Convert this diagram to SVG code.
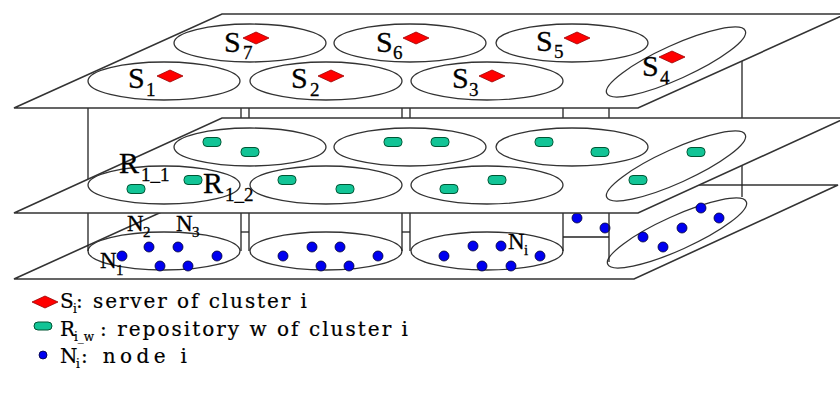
<svg xmlns="http://www.w3.org/2000/svg" width="840" height="406" viewBox="0 0 840 406" font-family="'Liberation Serif', 'Times New Roman', serif">
<style>
.pl{fill:#fff;stroke:#333;stroke-width:1.6}
.el{fill:none;stroke:#333;stroke-width:1.3}
.ln{stroke:#222;stroke-width:1.3;fill:none}
.srv{fill:#f00;stroke:#900;stroke-width:0.8}
.rep{fill:#12c496;stroke:#053;stroke-width:1}
.nd{fill:#0000f0;stroke:#003;stroke-width:0.8}
.t{font-family:'Liberation Serif','Times New Roman',serif;fill:#000;stroke:#000;stroke-width:0.3}
.s{font-size:30px}
.ss{font-size:19px}
.n{font-size:23px}
.ns{font-size:15px}
.lg{font-family:'DejaVu Serif',serif;font-size:20px;fill:#000;stroke:#000;stroke-width:0.2}
.lgs{font-size:12px}
</style>
<defs>
<path id="dia" class="srv" d="M-13,0 L0,-6 L13,0 L0,6 Z"/>
<rect id="rep" class="rep" x="-9" y="-4.5" width="18" height="9" rx="4"/>
<circle id="nd" class="nd" r="5"/>
</defs>

<g id="bottom-plane"><polygon class="pl" points="221,185 838,185 634,279 14,279"/></g>

<g id="cluster-N1">
<ellipse class="el" cx="164" cy="251" rx="76" ry="19"/>
<use href="#nd" x="122" y="256"/><use href="#nd" x="149" y="247"/><use href="#nd" x="178" y="247"/>
<use href="#nd" x="217" y="256"/><use href="#nd" x="160" y="266"/><use href="#nd" x="188" y="266"/>
<text class="t n" x="127" y="231">N<tspan class="ns" x="143" y="237">2</tspan></text>
<text class="t n" x="176" y="231">N<tspan class="ns" x="192" y="237">3</tspan></text>
<text class="t n" x="100" y="268">N<tspan class="ns" x="116" y="275">1</tspan></text>
</g>
<g id="cluster-N2">
<ellipse class="el" cx="326" cy="251" rx="76" ry="19"/>
<use href="#nd" x="283" y="256"/><use href="#nd" x="312" y="247"/><use href="#nd" x="340" y="247"/>
<use href="#nd" x="378" y="256"/><use href="#nd" x="321" y="266"/><use href="#nd" x="349" y="266"/>
</g>
<g id="cluster-N3">
<ellipse class="el" cx="487" cy="251" rx="76" ry="19"/>
<use href="#nd" x="444" y="256"/><use href="#nd" x="473" y="246"/><use href="#nd" x="501" y="246"/>
<use href="#nd" x="540" y="256"/><use href="#nd" x="482" y="266"/><use href="#nd" x="511" y="266"/>
<text class="t n" x="508" y="249">N<tspan class="ns" x="524" y="255">i</tspan></text>
</g>
<g id="cluster-N-back">
<use href="#nd" x="577" y="218"/><use href="#nd" x="605" y="228"/>
</g>
<g id="cluster-N4">
<ellipse class="el" cx="677" cy="233" rx="76" ry="17" transform="rotate(-24.3 677 233)"/>
<use href="#nd" x="701" y="208"/><use href="#nd" x="719" y="218"/><use href="#nd" x="682" y="228"/>
<use href="#nd" x="643" y="237"/><use href="#nd" x="663" y="247"/>
</g>

<g id="connectors" class="ln">
<line x1="88" y1="104" x2="88" y2="251"/>
<line x1="241" y1="104" x2="241" y2="251"/>
<line x1="249" y1="104" x2="249" y2="251"/>
<line x1="402" y1="104" x2="402" y2="251"/>
<line x1="410" y1="104" x2="410" y2="251"/>
<line x1="563" y1="104" x2="563" y2="251"/>
<line x1="609" y1="104" x2="609" y2="262"/>
<line x1="742" y1="58" x2="742" y2="197"/>
<line x1="241" y1="232" x2="249" y2="232"/>
<line x1="402" y1="232" x2="410" y2="232"/>
<line x1="563" y1="237" x2="609" y2="237"/>
</g>

<g id="middle-plane"><polygon class="pl" points="222,118 846,118 638,213 14,213"/></g>
<g id="cluster-R7">
<ellipse class="el" cx="250" cy="147" rx="76" ry="19"/>
<use href="#rep" x="212" y="142"/><use href="#rep" x="250" y="152"/>
</g>
<g id="cluster-R6">
<ellipse class="el" cx="410" cy="147" rx="76" ry="19"/>
<use href="#rep" x="393" y="142"/><use href="#rep" x="440" y="142"/>
</g>
<g id="cluster-R5">
<ellipse class="el" cx="572" cy="147" rx="76" ry="19"/>
<use href="#rep" x="544" y="142"/><use href="#rep" x="600" y="152"/>
</g>
<g id="cluster-R1">
<ellipse class="el" cx="164" cy="185" rx="76" ry="19"/>
<use href="#rep" x="136" y="189"/><use href="#rep" x="193" y="180"/>
<text class="t s" x="119" y="173">R<tspan class="ss" x="141" y="181">1_1</tspan></text>
<text class="t s" x="203" y="193">R<tspan class="ss" x="225" y="201">1_2</tspan></text>
</g>
<g id="cluster-R2">
<ellipse class="el" cx="326" cy="185" rx="76" ry="19"/>
<use href="#rep" x="287" y="180"/><use href="#rep" x="345" y="189"/>
</g>
<g id="cluster-R3">
<ellipse class="el" cx="487" cy="185" rx="76" ry="19"/>
<use href="#rep" x="449" y="189"/><use href="#rep" x="497" y="180"/>
</g>
<g id="cluster-R4">
<ellipse class="el" cx="676" cy="166" rx="76" ry="17" transform="rotate(-24.3 676 166)"/>
<use href="#rep" x="696" y="152"/><use href="#rep" x="638" y="180"/>
</g>

<g id="top-plane"><polygon class="pl" points="222,14 846,14 638,108 14,108"/></g>
<g id="cluster-S7">
<ellipse class="el" cx="250" cy="43" rx="76" ry="19"/>
<use href="#dia" x="256" y="38"/>
<text class="t s" x="224" y="52">S<tspan class="ss" x="243" y="59">7</tspan></text>
</g>
<g id="cluster-S6">
<ellipse class="el" cx="410" cy="43" rx="76" ry="19"/>
<use href="#dia" x="416" y="38"/>
<text class="t s" x="376" y="52">S<tspan class="ss" x="393" y="59">6</tspan></text>
</g>
<g id="cluster-S5">
<ellipse class="el" cx="572" cy="43" rx="76" ry="19"/>
<use href="#dia" x="577" y="38"/>
<text class="t s" x="536" y="51">S<tspan class="ss" x="554" y="58">5</tspan></text>
</g>
<g id="cluster-S1">
<ellipse class="el" cx="164" cy="81" rx="76" ry="19"/>
<use href="#dia" x="170" y="76"/>
<text class="t s" x="128" y="88">S<tspan class="ss" x="146" y="96">1</tspan></text>
</g>
<g id="cluster-S2">
<ellipse class="el" cx="326" cy="81" rx="76" ry="19"/>
<use href="#dia" x="331" y="76"/>
<text class="t s" x="291" y="88">S<tspan class="ss" x="310" y="96">2</tspan></text>
</g>
<g id="cluster-S3">
<ellipse class="el" cx="487" cy="81" rx="76" ry="19"/>
<use href="#dia" x="492" y="76"/>
<text class="t s" x="452" y="88">S<tspan class="ss" x="469" y="96">3</tspan></text>
</g>
<g id="cluster-S4">
<ellipse class="el" cx="676" cy="62" rx="76" ry="17" transform="rotate(-24.3 676 62)"/>
<use href="#dia" x="672" y="57"/>
<text class="t s" x="642" y="76">S<tspan class="ss" x="660" y="84">4</tspan></text>
</g>

<g id="legend">
<use href="#dia" x="45" y="302"/>
<text class="lg" x="60" y="308">S<tspan class="lgs" x="73" y="313">i</tspan><tspan x="76" y="308" textLength="231" lengthAdjust="spacing">: server of cluster i</tspan></text>
<rect class="rep" x="34" y="322" width="18" height="8" rx="4"/>
<text class="lg" x="60" y="336">R<tspan class="lgs" x="74" y="341">i_w</tspan><tspan x="100" y="336" textLength="308" lengthAdjust="spacing">: repository w of cluster i</tspan></text>
<circle class="nd" cx="43" cy="355" r="4"/>
<text class="lg" x="60" y="363">N<tspan class="lgs" x="76" y="368">i</tspan><tspan x="81" y="363" textLength="106" lengthAdjust="spacing">: node i</tspan></text>
</g>
</svg>
